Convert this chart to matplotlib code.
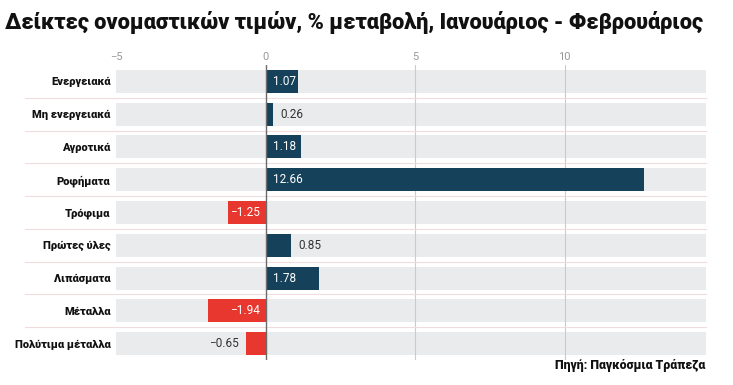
import matplotlib
matplotlib.use("Agg")
import matplotlib.pyplot as plt

FONT = "Roboto"

categories = ["Ενεργειακά", "Μη ενεργειακά", "Αγροτικά", "Ροφήματα", "Τρόφιμα",
              "Πρώτες ύλες", "Λιπάσματα", "Μέταλλα", "Πολύτιμα μέταλλα"]
values = [1.07, 0.26, 1.18, 12.66, -1.25, 0.85, 1.78, -1.94, -0.65]
xticks = [-5, 0, 5, 10]
title = "Δείκτες ονομαστικών τιμών, % μεταβολή, Ιανουάριος - Φεβρουάριος"
source = "Πηγή: Παγκόσμια Τράπεζα"

NAVY = "#15415a"
RED = "#e8372e"
BAND = "#e9ebec"

fig = plt.figure(figsize=(7.33, 3.85), dpi=100)
ax = fig.add_axes([116 / 733, 25 / 385, 590 / 733, 295 / 385])


def fit(text_obj, target_px):
    # shrink/grow font so the text spans target_px pixels
    r = fig.canvas.get_renderer()
    w = text_obj.get_window_extent(r).width
    text_obj.set_fontsize(text_obj.get_fontsize() * target_px / w)


xmin, xmax = -5, 14.73
rows = range(len(categories))
ax.barh(rows, [xmax - xmin] * len(categories), left=xmin, height=0.7, color=BAND, zorder=0)
for x in [5, 10]:
    ax.axvline(x, color="#c9cccf", lw=0.8, zorder=1)
colors = [NAVY if v >= 0 else RED for v in values]
ax.barh(rows, values, height=0.7, color=colors, zorder=2)
ax.axvline(0, color="#6b6b6b", lw=1.0, zorder=3)

# separators between rows
for i in range(len(categories) - 1):
    ax.axhline(i + 0.5, xmin=-(116 - 25) / 590, xmax=1, color="#f0dcdc", lw=0.8, clip_on=False)

for i, v in enumerate(values):
    txt = f"{v:.2f}".replace("-", "\u2212")
    inside = abs(v) > 0.9
    kw = dict(va="center", fontsize=8.5, family=FONT, zorder=4)
    if v >= 0:
        if inside:
            ax.text(0.25, i, txt, color="white", ha="left", **kw)
        else:
            ax.text(v + 0.25, i, txt, color="#333333", ha="left", **kw)
    else:
        if inside:
            ax.text(-0.2, i, txt, color="white", ha="right", **kw)
        else:
            ax.text(v - 0.25, i, txt, color="#333333", ha="right", **kw)

ax.set_xlim(xmin, xmax)
ax.set_ylim(len(categories) - 0.5, -0.5)
ax.xaxis.tick_top()
ax.set_xticks(xticks)
ax.set_xticklabels([str(t).replace("-", "\u2212") for t in xticks], color="#999999",
                   fontsize=8, family=FONT)
ax.tick_params(axis="x", length=0, pad=2)
ax.set_yticks(list(rows))
ax.tick_params(axis="y", length=0, pad=4)
for s in ax.spines.values():
    s.set_visible(False)

# y labels, width-fitted on the longest one
longest = fig.text(0, 0, categories[-1], fontsize=10, fontweight="heavy", family=FONT)
fit(longest, 96)
ysize = longest.get_fontsize()
longest.remove()
ax.set_yticklabels(categories, fontsize=ysize, fontweight="heavy", family=FONT, color="#111111")

t = fig.text(5 / 733, 1 - 23 / 385, title, fontsize=17, fontweight="heavy", family=FONT,
             ha="left", va="center", color="#111111")
fit(t, 698)
s = fig.text(705 / 733, 1 - 365 / 385, source, fontsize=10, fontweight="heavy",
             family=FONT, ha="right", va="center", color="#111111")
fit(s, 150)

fig.savefig("out.png", dpi=100)
